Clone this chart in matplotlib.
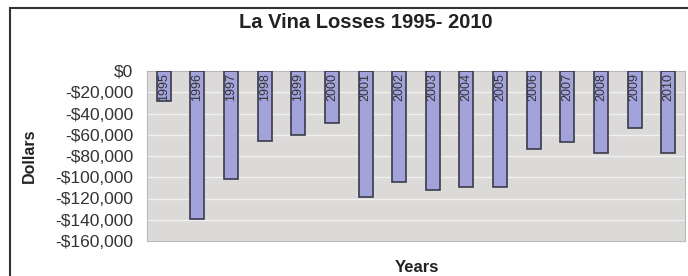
import matplotlib.pyplot as plt
from matplotlib.patches import Rectangle
from matplotlib.ticker import FuncFormatter

years = ['1995', '1996', '1997', '1998', '1999', '2000', '2001', '2002',
         '2003', '2004', '2005', '2006', '2007', '2008', '2009', '2010']
losses = [-28000, -139000, -102000, -66000, -60000, -49000, -119000, -104000,
          -112000, -109000, -109000, -73000, -67000, -77000, -54000, -77000]

plt.rcParams['font.family'] = ['Liberation Sans', 'DejaVu Sans']

fig = plt.figure(figsize=(6.88, 2.76), dpi=100)
fig.patch.set_facecolor('white')
fig.patches.append(Rectangle((10 / 688, -0.05), 1.0, 1 - 8 / 276 + 0.05,
                             transform=fig.transFigure, fill=False,
                             edgecolor='#333333', linewidth=1.5))

ax = fig.add_axes([147 / 688, 35 / 276, 538 / 688, 170 / 276])
ax.set_facecolor('#dcdad8')
x = range(len(years))
ax.bar(x, losses, width=0.42, color='#a3a3dc', edgecolor='#3a3a4a',
       linewidth=1.2, zorder=3)
for i, y in zip(x, years):
    ax.text(i, -2000, y, rotation=90, ha='center', va='top',
            fontsize=9, color='#333333', zorder=4)

ax.set_ylim(-160000, 0)
ax.set_xlim(-0.5, len(years) - 0.5)
ax.set_yticks(range(-160000, 1, 20000))
ax.yaxis.set_major_formatter(FuncFormatter(
    lambda v, p: '$0' if v == 0 else '-${:,.0f}'.format(abs(v))))
ax.set_xticks([])
ax.tick_params(axis='y', length=0, labelsize=12.5, labelcolor='#333333', pad=10)
ax.grid(axis='y', color='#f0f0f0', linewidth=1, zorder=1)
for s in ax.spines.values():
    s.set_color('#b8b8b8')

ax.set_ylabel('Dollars', fontsize=11.5, fontweight='bold', color='#222222')
ax.yaxis.set_label_coords(-0.205, 0.5)
fig.text(417 / 688, 1 - 267 / 276, 'Years', ha='center', va='center',
         fontsize=12, fontweight='bold', color='#222222')
fig.text(366 / 688, 1 - 22 / 276, 'La Vina Losses 1995- 2010', ha='center',
         va='center', fontsize=14.5, fontweight='bold', color='#222222')

fig.savefig('out.png', dpi=100)
